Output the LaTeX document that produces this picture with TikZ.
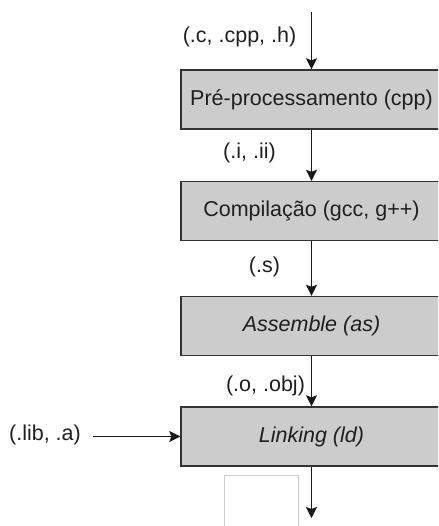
\documentclass[tikz,border=0pt]{standalone}
\usepackage{fontspec}
\setmainfont{Liberation Sans}
\usetikzlibrary{arrows.meta}
\definecolor{boxgray}{HTML}{CCCCCC}
\definecolor{edgegray}{HTML}{333333}
\begin{document}
\begin{tikzpicture}[x=1pt,y=-1pt,
  stage/.style={draw=edgegray, line width=1.4pt, fill=boxgray, minimum width=261pt, minimum height=59pt, inner sep=0pt, font=\fontsize{21.5}{25}\selectfont, text=black!88},
  lbl/.style={font=\fontsize{21.5}{25}\selectfont, inner sep=0pt, text=black!88},
  flow/.style={line width=1.3pt, draw=black!90, -{Stealth[length=11pt,width=11pt,inset=2pt]}},
  ghost/.style={draw=black!20, line width=0.8pt, minimum width=74pt, minimum height=80pt, inner sep=0pt}]
\useasboundingbox (0,0) rectangle (438,526);
\clip (0,0) rectangle (438,526);
\fill[white] (0,0) rectangle (438,526);

\node[stage] (b1) at (311.5,99.5) {Pré-processamento (cpp)};
\node[stage] (b2) at (311.5,211) {Compilação (gcc, g++)};
\node[stage] (b3) at (311.5,326) {\itshape Assemble (as)};
\node[stage] (b4) at (311.5,436.5) {\itshape Linking (ld)};

\node[ghost] (blank) at (261,515) {};

\node[lbl] (l1) at (239.5,37) {(.c, .cpp, .h)};
\node[lbl] (l2) at (249.5,153) {(.i, .ii)};
\node[lbl] (l3) at (264.5,267) {(.s)};
\node[lbl] (l4) at (265.5,386) {(.o, .obj)};
\node[lbl] (l5) at (45,435) {(.lib, .a)};

\coordinate (start) at (311.5,12);
\coordinate (libstart) at (93,436.5);
\coordinate (finish) at (311.5,518);

\draw[flow] (start) -- (b1.north);
\draw[flow] (b1.south) -- (b2.north);
\draw[flow] (b2.south) -- (b3.north);
\draw[flow] (b3.south) -- (b4.north);
\draw[flow] (libstart) -- (b4.west);
\draw[flow] (b4.south) -- (finish);
\end{tikzpicture}
\end{document}
